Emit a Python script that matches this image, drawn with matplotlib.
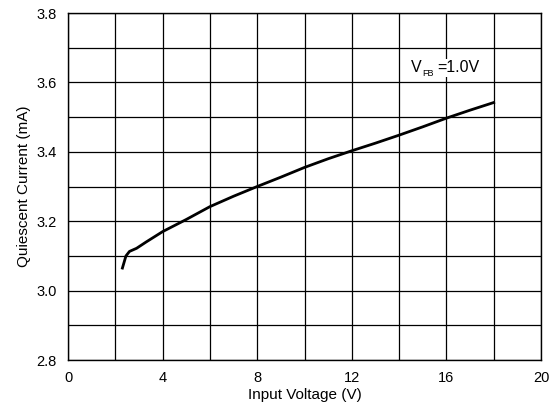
import numpy as np
import matplotlib
matplotlib.use('Agg')
import matplotlib.pyplot as plt

plt.rcParams['font.family'] = ['Liberation Sans', 'DejaVu Sans']

# datos
vin = [2.3, 2.45, 2.6, 2.9, 3.3, 4, 5, 6, 7, 8, 9, 10, 11, 12, 13, 14, 15, 16, 17, 18]
iq = [3.065, 3.10, 3.113, 3.122, 3.14, 3.170, 3.205, 3.242, 3.272, 3.300, 3.327, 3.355,
      3.380, 3.403, 3.425, 3.448, 3.472, 3.497, 3.520, 3.542]
xticks = [0, 4, 8, 12, 16, 20]
yticks = [2.8, 3.0, 3.2, 3.4, 3.6, 3.8]

fig = plt.figure(figsize=(5.58, 4.08), dpi=100)
ax = fig.add_axes([0.1219, 0.1176, 0.8476, 0.8505])

ax.plot(vin, iq, color='black', lw=2, zorder=3)

ax.set_xlim(0, 20)
ax.set_ylim(2.8, 3.8)
ax.set_xticks(xticks)
ax.set_yticks(yticks)
ax.set_yticklabels([f'{v:.1f}' for v in yticks])
ax.set_xticks(np.arange(0, 21, 2), minor=True)
ax.set_yticks(np.arange(2.8, 3.81, 0.1), minor=True)
ax.grid(which='both', color='black', lw=0.9)
ax.tick_params(which='both', length=0, labelsize=10.5)
ax.tick_params(axis='x', pad=8)
ax.tick_params(axis='y', pad=8)
for s in ax.spines.values():
    s.set_linewidth(1)

# V_FB con subindice pequeño
caja = dict(facecolor='white', edgecolor='none', pad=1)
ax.text(14.5, 3.642, 'V', fontsize=11.5, va='center', ha='left', bbox=caja, zorder=4)
ax.text(15.0, 3.625, 'FB', fontsize=6.5, va='center', ha='left', bbox=caja, zorder=4)
ax.text(15.6, 3.642, '=1.0V', fontsize=11.5, va='center', ha='left', bbox=caja, zorder=4)

ax.set_xlabel('Input Voltage (V)', fontsize=11, labelpad=2)
ax.set_ylabel('Quiescent Current (mA)', fontsize=11, labelpad=4)

fig.savefig('out.png', dpi=100)
